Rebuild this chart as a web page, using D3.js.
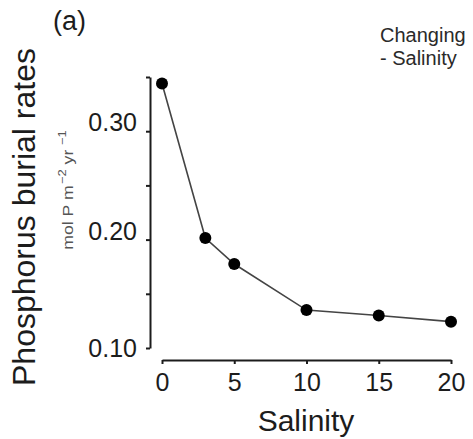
<!DOCTYPE html>
<html>
<head>
<meta charset="utf-8">
<script src="https://cdn.jsdelivr.net/npm/d3@7"></script>
<style>
  html, body { margin: 0; padding: 0; background: #fff; }
  svg { display: block; font-family: "Liberation Sans", Arial, Helvetica, sans-serif; }
</style>
</head>
<body>
<svg id="chart" width="473" height="439"></svg>
<script>
// ---- data ----
const salinity = [0, 3, 5, 10, 15, 20];
const burialRate = [0.344, 0.2015, 0.1775, 0.135, 0.130, 0.1243];
const xTicks = [0, 5, 10, 15, 20];
const yTicks = [0.10, 0.15, 0.20, 0.25, 0.30, 0.35];
const yLabelled = [0.10, 0.20, 0.30];
const panelLabel = "(a)";
const legendLines = ["Changing", "- Salinity"];
const xTitle = "Salinity";
const yTitle = "Phosphorus burial rates";

const svg = d3.select("#chart");
const ink = "#1c1c1c";

const x = d3.scaleLinear().domain([0, 20]).range([162, 451]);
const y = d3.scaleLinear().domain([0.10, 0.35]).range([348, 77]);

// y axis (offset)
const yAxis = svg.append("g")
  .attr("transform", "translate(150,0)")
  .call(d3.axisLeft(y)
    .tickValues(yTicks)
    .tickSize(4)
    .tickSizeOuter(0)
    .tickPadding(9)
    .tickFormat(d => yLabelled.some(v => Math.abs(v - d) < 1e-9) ? d.toFixed(2) : ""));
yAxis.select(".domain").attr("stroke", ink).attr("stroke-width", 2);
yAxis.selectAll(".tick line").attr("stroke", ink).attr("stroke-width", 2);
yAxis.selectAll(".tick text")
  .attr("fill", ink)
  .style("font-size", "25px")
  .attr("dy", d => Math.abs(d - 0.10) < 1e-9 ? "0.35em" : "-0.02em");

// x axis (offset)
const xAxis = svg.append("g")
  .attr("transform", "translate(0,360)")
  .call(d3.axisBottom(x)
    .tickValues(xTicks)
    .tickSize(4)
    .tickSizeOuter(0)
    .tickPadding(9));
xAxis.select(".domain").attr("stroke", ink).attr("stroke-width", 2);
xAxis.selectAll(".tick line").attr("stroke", ink).attr("stroke-width", 2);
xAxis.selectAll(".tick text").attr("fill", ink).style("font-size", "25px");

// line + points
const pts = salinity.map((s, i) => [s, burialRate[i]]);
svg.append("path")
  .datum(pts)
  .attr("fill", "none")
  .attr("stroke", "#444")
  .attr("stroke-width", 1.6)
  .attr("d", d3.line().x(d => x(d[0])).y(d => y(d[1])));
svg.selectAll("circle.pt")
  .data(pts)
  .join("circle")
  .attr("class", "pt")
  .attr("cx", d => x(d[0]))
  .attr("cy", d => y(d[1]))
  .attr("r", 6)
  .attr("fill", "#000");

// axis titles
svg.append("text")
  .attr("x", 306).attr("y", 431)
  .attr("text-anchor", "middle")
  .attr("fill", ink)
  .style("font-size", "30px")
  .text(xTitle);

svg.append("text")
  .attr("transform", "translate(35,217) rotate(-90)")
  .attr("text-anchor", "middle")
  .attr("fill", ink)
  .style("font-size", "32px")
  .text(yTitle);

// unit subtitle
const unit = svg.append("text")
  .attr("transform", "translate(73,190) rotate(-90) scale(1.18,1)")
  .attr("text-anchor", "middle")
  .attr("fill", "#555")
  .style("font-size", "15px");
unit.append("tspan").text("mol P m");
unit.append("tspan").attr("dy", -7).attr("dx", 1).style("font-size", "11px").text("\u22122");
unit.append("tspan").attr("dy", 7).text(" yr");
unit.append("tspan").attr("dy", -7).attr("dx", 4).style("font-size", "11px").text("\u22121");

// panel label
svg.append("text")
  .attr("x", 53).attr("y", 30)
  .attr("fill", ink)
  .style("font-size", "27px")
  .text(panelLabel);

// legend-like note
svg.append("g").selectAll("text")
  .data(legendLines)
  .join("text")
  .attr("x", 380)
  .attr("y", (d, i) => 42 + i * 23)
  .attr("fill", "#2a2a2a")
  .style("font-size", "20px")
  .text(d => d);
</script>
</body>
</html>
